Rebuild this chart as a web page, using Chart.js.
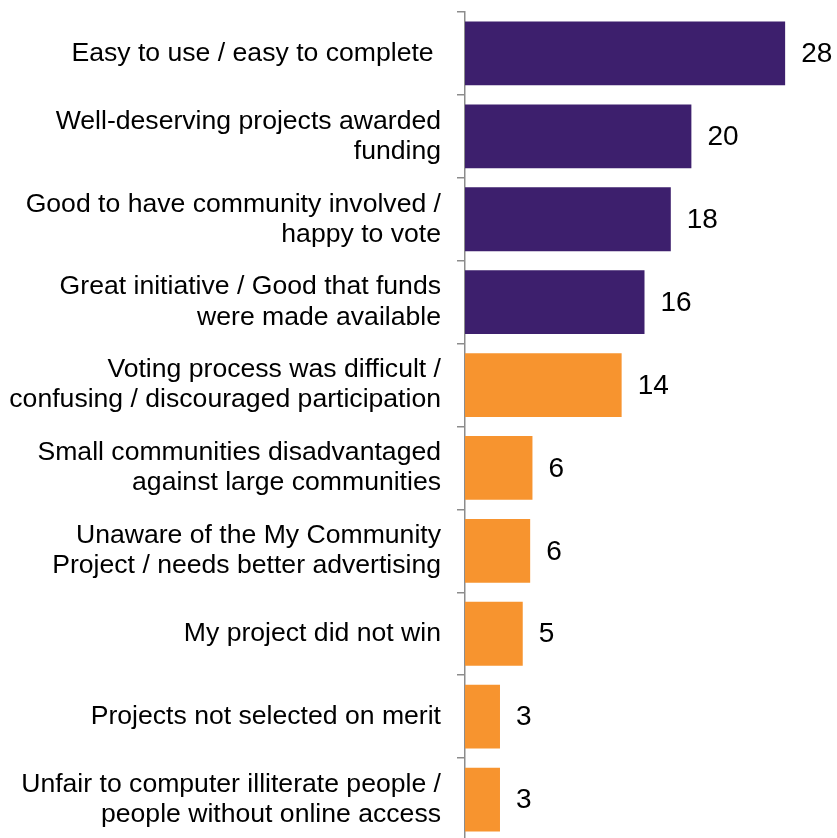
<!doctype html>
<html>
    <head>
        <title>Feedback</title>
        <script src="https://cdn.jsdelivr.net/npm/chart.js@4/dist/chart.umd.min.js"></script>
        <style>
            html, body { margin: 0; padding: 0; overflow: hidden; background: #fff; }
            #container { width: 837px; height: 841px; }
        </style>
    </head>
    <body>
        <div id="container"><canvas id="myChart"></canvas></div>
        <script>
            // categories (multi-line labels)
            var categories = [
                ['Easy to use / easy to complete '],
                ['Well-deserving projects awarded', 'funding'],
                ['Good to have community involved /', 'happy to vote'],
                ['Great initiative / Good that funds', 'were made available'],
                ['Voting process was difficult /', 'confusing / discouraged participation'],
                ['Small communities disadvantaged', 'against large communities'],
                ['Unaware of the My Community', 'Project / needs better advertising'],
                ['My project did not win'],
                ['Projects not selected on merit'],
                ['Unfair to computer illiterate people /', 'people without online access']
            ];
            // bar lengths as drawn, and the numbers printed next to them
            var values = [28, 19.8, 18.0, 15.7, 13.7, 5.9, 5.7, 5.05, 3.06, 3.06];
            var valueLabels = ['28', '20', '18', '16', '14', '6', '6', '5', '3', '3'];
            // 'pos' = positive comments, 'neg' = negative comments
            var groups = ['pos', 'pos', 'pos', 'pos', 'neg', 'neg', 'neg', 'neg', 'neg', 'neg'];

            var COLORS = { pos: '#3d1f6d', neg: '#f7942f' };

            var valuePlugin = {
                id: 'valueLabels',
                afterDatasetsDraw: function (chart) {
                    var ctx = chart.ctx;
                    var meta = chart.getDatasetMeta(0);
                    ctx.save();
                    ctx.font = '28px Arial, "Liberation Sans", sans-serif';
                    ctx.fillStyle = '#000';
                    ctx.textAlign = 'left';
                    ctx.textBaseline = 'middle';
                    for (var i = 0; i < meta.data.length; i++) {
                        var bar = meta.data[i];
                        ctx.fillText(valueLabels[i], bar.x + 16, bar.y + 1);
                    }
                    ctx.restore();
                }
            };

            var ctx = document.getElementById('myChart').getContext('2d');
            var myChart = new Chart(ctx, {
                type: 'bar',
                data: {
                    labels: categories,
                    datasets: [{
                        data: values,
                        backgroundColor: groups.map(function (g) { return COLORS[g]; }),
                        borderWidth: 0,
                        barPercentage: 0.77,
                        categoryPercentage: 1
                    }]
                },
                plugins: [valuePlugin],
                options: {
                    indexAxis: 'y',
                    responsive: true,
                    maintainAspectRatio: false,
                    animation: false,
                    layout: {
                        padding: { top: 12, right: 29, bottom: 0, left: 0 }
                    },
                    plugins: {
                        legend: { display: false },
                        tooltip: { enabled: false }
                    },
                    scales: {
                        x: {
                            display: false,
                            min: 0,
                            max: 30
                        },
                        y: {
                            afterFit: function (scale) {
                                scale.width = 465;
                                scale.paddingTop = 0;
                                scale.paddingBottom = 0;
                            },
                            grid: {
                                offset: true,
                                drawOnChartArea: false,
                                drawTicks: true,
                                tickLength: 8,
                                color: '#8c8c8c',
                                lineWidth: 1.5
                            },
                            border: {
                                display: true,
                                color: '#8c8c8c',
                                width: 1.5
                            },
                            ticks: {
                                padding: 16,
                                color: '#000',
                                font: {
                                    family: 'Arial, "Liberation Sans", sans-serif',
                                    size: 26.6,
                                    lineHeight: 1.13
                                }
                            }
                        }
                    }
                }
            });
        </script>
    </body>
</html>
